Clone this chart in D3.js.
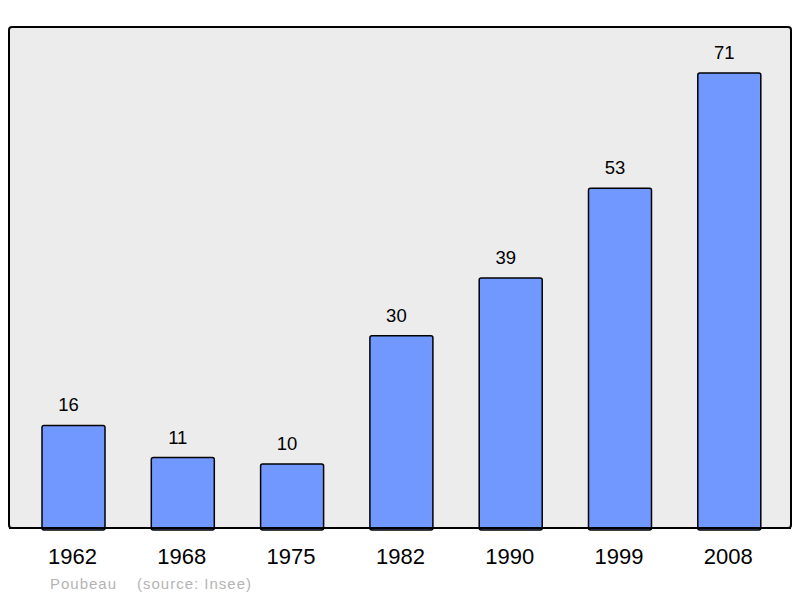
<!DOCTYPE html>
<html lang="fr">
<head>
  <meta charset="UTF-8">
  <title>Population - Poubeau</title>
  <style>
    body { margin: 0; background: #fff; font-family: "Liberation Sans", Arial, sans-serif; }
    svg { display: block; }
    .bar { fill: #7098ff; stroke: #000; stroke-width: 1.5px; }
    .frame { fill: #ececec; stroke: #000; stroke-width: 2px; }
    .value { font-size: 18.5px; fill: #000; text-anchor: middle; }
    .year { font-size: 22px; fill: #000; text-anchor: middle; }
    .source { font-size: 15px; fill: #b4b4b4; letter-spacing: 1px; }
  </style>
</head>
<body>
  <div id="chart"></div>
  <script src="https://d3js.org/d3.v7.min.js"></script>
  <script>
    // Population data
    const years = ["1962", "1968", "1975", "1982", "1990", "1999", "2008"];
    const population = [16, 11, 10, 30, 39, 53, 71];
    const commune = "Poubeau";
    const source = "(source: Insee)";

    const width = 800;
    const height = 598;
    const plot = { left: 9, right: 791, top: 27, bottom: 528 };

    const svg = d3.select("#chart")
      .append("svg")
      .attr("width", width)
      .attr("height", height);

    // step ~109.3px, bars ~63px wide
    const pad = 0.4236;
    const x = d3.scaleBand()
      .domain(years)
      .range([18.85, 783.95])
      .paddingInner(pad)
      .paddingOuter(pad / 2);

    const y = d3.scaleLinear()
      .domain([0, 71])
      .range([plot.bottom, 73]);

    // Background frame
    svg.append("rect")
      .attr("class", "frame")
      .attr("x", plot.left)
      .attr("y", plot.top)
      .attr("width", plot.right - plot.left)
      .attr("height", plot.bottom - plot.top)
      .attr("rx", 3);

    const data = years.map((yr, i) => ({ year: yr, value: population[i] }));

    // Bars
    svg.append("g")
      .selectAll("rect")
      .data(data)
      .join("rect")
      .attr("class", "bar")
      .attr("x", d => x(d.year))
      .attr("y", d => y(d.value))
      .attr("width", x.bandwidth())
      .attr("height", d => y(0) - y(d.value) + 2)
      .attr("rx", 2);

    // redraw bottom edge of frame over bars
    svg.append("line")
      .attr("x1", plot.left)
      .attr("x2", plot.right)
      .attr("y1", plot.bottom)
      .attr("y2", plot.bottom)
      .attr("stroke", "#000")
      .attr("stroke-width", 2);

    // Value labels (sit slightly left of the bar centre in the original)
    svg.append("g")
      .selectAll("text")
      .data(data)
      .join("text")
      .attr("class", "value")
      .attr("x", d => x(d.year) + x.bandwidth() / 2 - 5)
      .attr("y", d => y(d.value) - 14)
      .text(d => d.value);

    // Year labels
    svg.append("g")
      .selectAll("text")
      .data(data)
      .join("text")
      .attr("class", "year")
      .attr("x", d => x(d.year) + x.bandwidth() / 2 - 1)
      .attr("y", 564)
      .text(d => d.year);

    // Source
    svg.append("text")
      .attr("class", "source")
      .attr("x", 50)
      .attr("y", 589)
      .text(commune);
    svg.append("text")
      .attr("class", "source")
      .attr("x", 137)
      .attr("y", 589)
      .text(source);
  </script>
</body>
</html>
